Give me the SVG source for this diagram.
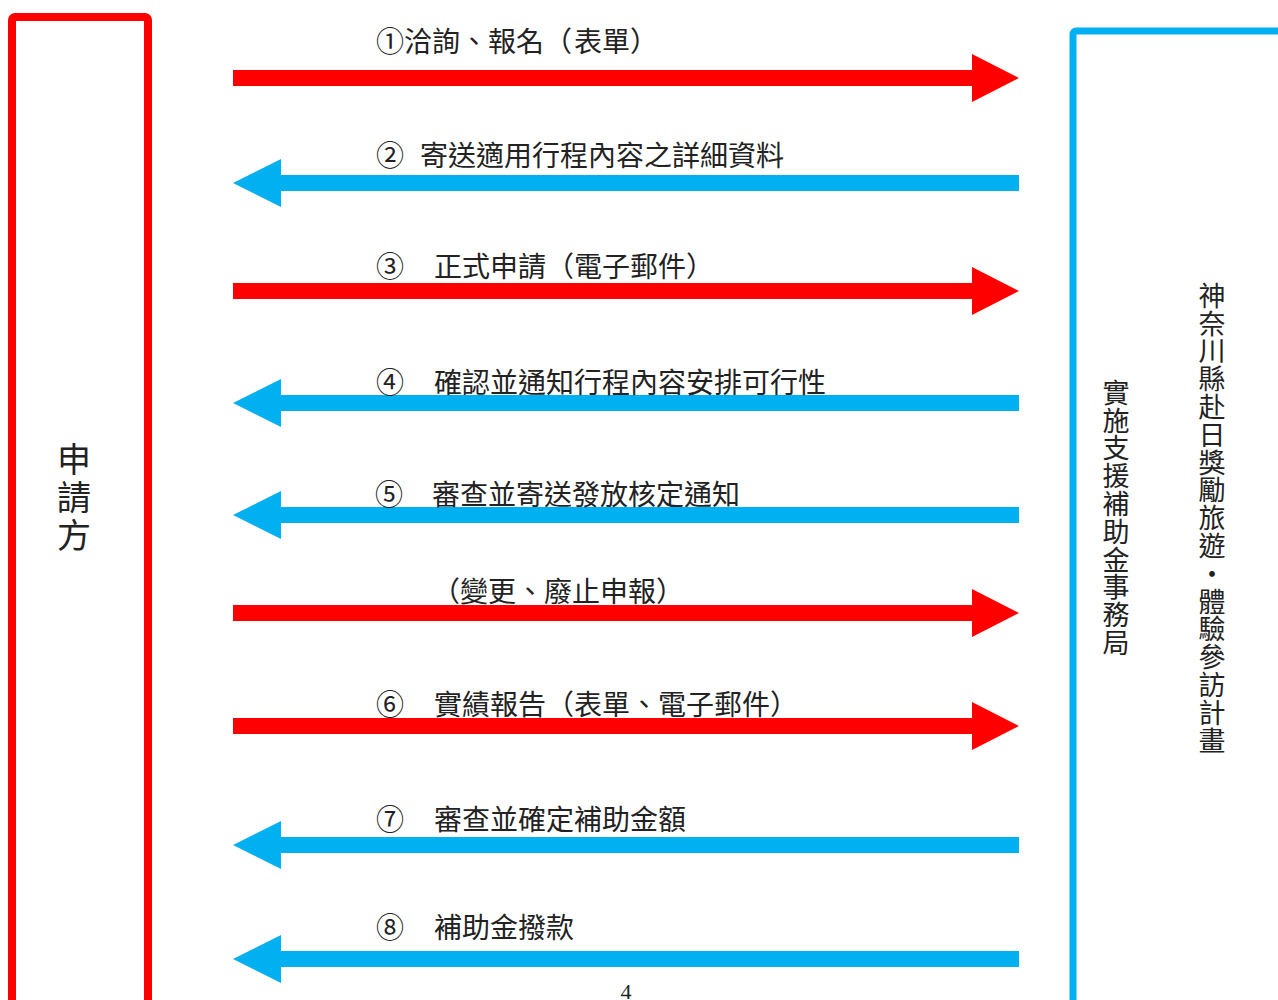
<svg xmlns="http://www.w3.org/2000/svg" width="1278" height="1000" viewBox="0 0 1278 1000">
<style>
.lbl{font-family:"Noto Sans CJK TC","Noto Sans CJK JP",sans-serif;font-size:28px;fill:#222;text-spacing-trim:space-all}
.vt{font-family:"Noto Sans CJK TC","Noto Sans CJK JP",sans-serif;font-size:27px;fill:#222;writing-mode:vertical-rl;letter-spacing:0.8px}
.red{fill:#FF0000}
.blue{fill:#00B0F0}
</style>
<defs>
<path id="ar" d="M233,-8 H972 V-24 L1019,0 L972,24 V8 H233 Z"/>
<path id="al" d="M233,0 L281,-24 V-8 H1019 V8 H281 V24 Z"/>
</defs>
<rect width="1278" height="1000" fill="#fff"/>
<g id="applicant">
<rect x="12" y="17" width="136" height="1010" rx="3" fill="none" stroke="#FF0000" stroke-width="8"/>
<text class="vt" x="74" y="442" style="font-size:34px;letter-spacing:4px">申請方</text>
</g>
<g id="office">
<rect x="1073" y="31" width="300" height="1010" rx="3" fill="none" stroke="#00B0F0" stroke-width="7"/>
<text class="vt" x="1116" y="379">實施支援補助金事務局</text>
<text class="vt" x="1212" y="282">神奈川縣赴日獎勵旅遊・體驗參訪計畫</text>
</g>
<g id="connectors">
<use href="#ar" class="red" transform="translate(0,78)"/>
<use href="#al" class="blue" transform="translate(0,183)"/>
<use href="#ar" class="red" transform="translate(0,291)"/>
<use href="#al" class="blue" transform="translate(0,403)"/>
<use href="#al" class="blue" transform="translate(0,515)"/>
<use href="#ar" class="red" transform="translate(0,613)"/>
<use href="#ar" class="red" transform="translate(0,726)"/>
<use href="#al" class="blue" transform="translate(0,845)"/>
<use href="#al" class="blue" transform="translate(0,959)"/>
</g>
<g id="labels" class="lbl">
<text y="52"><tspan x="376">①洽詢、報名</tspan><tspan x="544">（</tspan><tspan x="574">表單</tspan><tspan x="630">）</tspan></text>
<text y="166"><tspan x="376">②</tspan><tspan x="420">寄送適用行程內容之詳細資料</tspan></text>
<text y="277"><tspan x="376">③</tspan><tspan x="434">正式申請</tspan><tspan x="546">（</tspan><tspan x="574">電子郵件</tspan><tspan x="686">）</tspan></text>
<text y="393"><tspan x="376">④</tspan><tspan x="434">確認並通知行程內容安排可行性</tspan></text>
<text y="505"><tspan x="375">⑤</tspan><tspan x="432">審查並寄送發放核定通知</tspan></text>
<text y="602"><tspan x="432">（</tspan><tspan x="460">變更、廢止申報</tspan><tspan x="656">）</tspan></text>
<text y="715"><tspan x="376">⑥</tspan><tspan x="434">實績報告</tspan><tspan x="546">（</tspan><tspan x="574">表單、電子郵件</tspan><tspan x="770">）</tspan></text>
<text y="830"><tspan x="376">⑦</tspan><tspan x="434">審查並確定補助金額</tspan></text>
<text y="938"><tspan x="376">⑧</tspan><tspan x="434">補助金撥款</tspan></text>
</g>
<text x="626" y="999" text-anchor="middle" font-family="Liberation Serif, serif" font-size="22" fill="#222">4</text>
</svg>
